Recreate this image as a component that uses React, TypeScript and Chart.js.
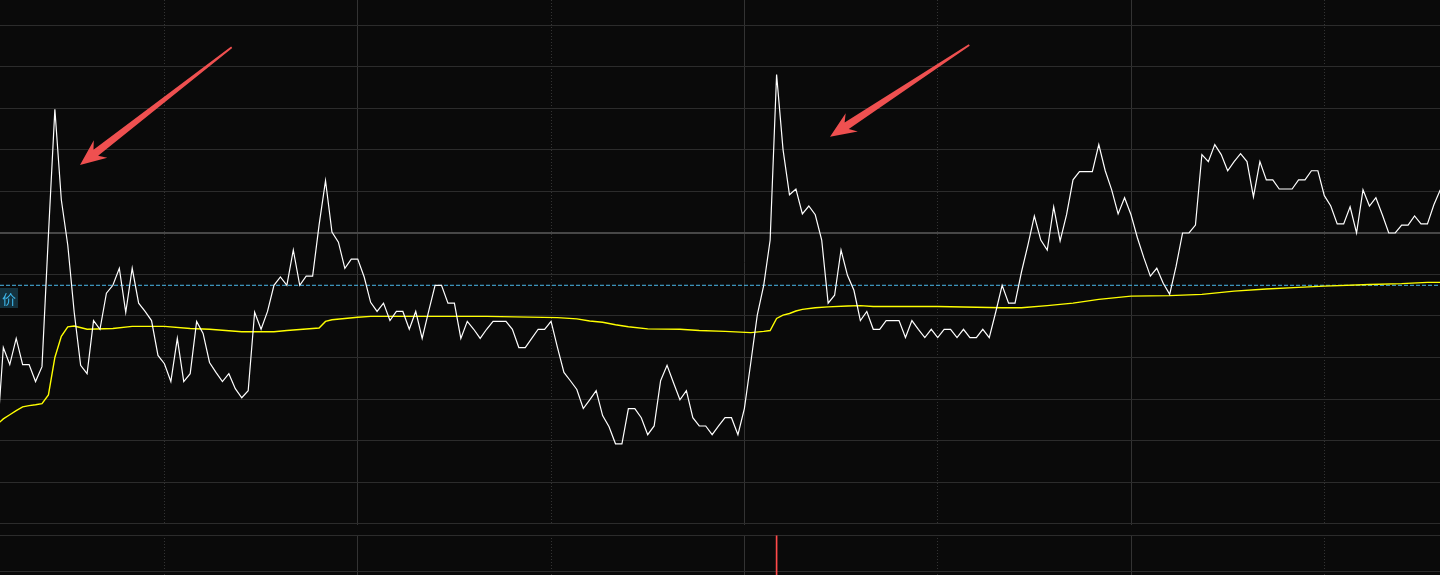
import React, { useEffect, useRef } from "react";
import { Chart, registerables } from "chart.js";

Chart.register(...registerables);

// ---------------- DATA ----------------
// minute index of the trading session (0 = 09:30), first visible minute
const FIRST_MINUTE = 4;
// price line, one value per minute starting at FIRST_MINUTE
const PRICES = [
  9.499, 9.724, 9.683, 9.746, 9.683, 9.683, 9.642, 9.678, 9.995, 10.298,
  10.080, 9.971, 9.809, 9.681, 9.661, 9.789, 9.768, 9.855, 9.874, 9.915,
  9.809, 9.915, 9.831, 9.811, 9.789, 9.705, 9.685, 9.642, 9.746, 9.642,
  9.661, 9.787, 9.758, 9.688, 9.664, 9.642, 9.661, 9.625, 9.603, 9.620,
  9.809, 9.768, 9.811, 9.874, 9.894, 9.874, 9.959, 9.874, 9.896, 9.896,
  10.019, 10.126, 10.002, 9.978, 9.915, 9.937, 9.937, 9.894, 9.833, 9.811,
  9.831, 9.789, 9.811, 9.811, 9.768, 9.811, 9.746, 9.811, 9.874, 9.874,
  9.831, 9.831, 9.746, 9.787, 9.768, 9.746, 9.768, 9.787, 9.787, 9.787,
  9.768, 9.724, 9.724, 9.746, 9.768, 9.768, 9.787, 9.724, 9.664, 9.644,
  9.623, 9.577, 9.598, 9.620, 9.560, 9.533, 9.492, 9.492, 9.577, 9.577,
  9.555, 9.514, 9.535, 9.644, 9.681, 9.639, 9.598, 9.620, 9.555, 9.535,
  9.535, 9.514, 9.535, 9.555, 9.555, 9.514, 9.577, 9.688, 9.802, 9.874,
  9.983, 10.382, 10.201, 10.092, 10.106, 10.046, 10.065, 10.044, 9.983, 9.831,
  9.850, 9.959, 9.898, 9.862, 9.789, 9.811, 9.768, 9.768, 9.789, 9.789,
  9.789, 9.748, 9.789, 9.768, 9.748, 9.768, 9.748, 9.768, 9.768, 9.748,
  9.768, 9.748, 9.748, 9.768, 9.748, 9.809, 9.874, 9.831, 9.831, 9.906,
  9.971, 10.041, 9.983, 9.959, 10.063, 9.981, 10.044, 10.128, 10.148, 10.148,
  10.148, 10.213, 10.150, 10.104, 10.046, 10.085, 10.044, 9.988, 9.940, 9.896,
  9.915, 9.879, 9.852, 9.920, 10.000, 10.000, 10.019, 10.189, 10.172, 10.213,
  10.189, 10.150, 10.172, 10.191, 10.172, 10.087, 10.172, 10.128, 10.128, 10.106,
  10.106, 10.106, 10.128, 10.128, 10.150, 10.150, 10.090, 10.065, 10.022, 10.022,
  10.063, 10.000, 10.104, 10.065, 10.085, 10.044, 10.000, 10.000, 10.019, 10.019,
  10.041, 10.022, 10.022, 10.068, 10.104,
];

// average price line (read at selected minutes)
const AVG_MINUTES = [
  4, 5, 6, 7, 8, 9, 10, 11, 12, 13,
  14, 15, 16, 18, 22, 25, 30, 34, 37, 42,
  47, 49, 54, 55, 56, 58, 60, 62, 80, 91,
  94, 96, 98, 100, 102, 105, 110, 113, 117, 121,
  123, 124, 125, 126, 127, 128, 129, 131, 133, 136,
  138, 140, 150, 160, 163, 167, 171, 175, 180, 186,
  191, 196, 201, 206, 210, 217, 222, 226, 228,
];
const AVG_VALUES = [
  9.538, 9.552, 9.562, 9.572, 9.581, 9.584, 9.586, 9.589, 9.610, 9.700,
  9.751, 9.774, 9.776, 9.768, 9.770, 9.775, 9.775, 9.770, 9.768, 9.762,
  9.762, 9.765, 9.771, 9.787, 9.791, 9.794, 9.797, 9.799, 9.799, 9.796,
  9.793, 9.788, 9.785, 9.779, 9.774, 9.769, 9.768, 9.765, 9.763, 9.760,
  9.763, 9.765, 9.794, 9.802, 9.806, 9.812, 9.816, 9.820, 9.822, 9.824,
  9.825, 9.823, 9.823, 9.820, 9.820, 9.825, 9.831, 9.840, 9.848, 9.849,
  9.852, 9.860, 9.865, 9.869, 9.872, 9.876, 9.878, 9.881, 9.881,
];

const PREV_CLOSE = 10.0;
const REF_PRICE = 9.874; // dashed "价" line
const REF_LABEL = "价";

// horizontal grid values (price)
const PRICE_GRID = [10.5, 10.4, 10.3, 10.2, 10.1, 10.0, 9.9, 9.8, 9.7, 9.6, 9.5, 9.4, 9.3];
// vertical grid minutes: solid (10:30, 11:30/13:00, 14:00) and dotted (half hours)
const SOLID_MINUTES = [60, 120, 180];
const DOTTED_MINUTES = [30, 90, 150, 210];

// volume panel (only the top of the panel is visible)
const VOLUME_MINUTES = [125];
const VOLUME_VALUES = [49000];
const VOLUME_GRID = [50000, 5000];

// annotation arrows, in (minute, price) space: from tail to tip
const ARROW_FROM_MINUTES = [40.44, 154.9];
const ARROW_FROM_PRICES = [10.4475, 10.453];
const ARROW_TO_MINUTES = [16.9, 133.29];
const ARROW_TO_PRICES = [10.1639, 10.232];

// visible axis ranges
const X_MIN = 4.485;
const X_MAX = 227.95;
const Y_MIN = 9.2964;
const Y_MAX = 10.5614;
const VOL_MIN = 0;
const VOL_MAX = 50000;

// ---------------- STYLE ----------------
const BG = "#0a0a0a";
const GRID = "#2c2c2c";
const GRID_MID = "#474747";
const VGRID = "#333333";

const W = 1440;
const MAIN_H = 525;
const VOL_TOP = 535;
const VOL_H = 40;

function xAxes(): any {
  const base = (ticks: number[], dash: number[] | undefined) => ({
    type: "linear",
    position: "bottom",
    min: X_MIN,
    max: X_MAX,
    offset: false,
    ticks: { display: false },
    grid: { drawTicks: false, color: VGRID, lineWidth: 1, offset: false },
    border: { display: false, dash },
    afterBuildTicks: (s: any) => {
      s.ticks = ticks.map((v) => ({ value: v }));
    },
  });
  return { x: base(SOLID_MINUTES, undefined), x2: base(DOTTED_MINUTES, [1, 2]) };
}

const annotationPlugin = {
  id: "annotations",
  afterDatasetsDraw(chart: any) {
    const { ctx } = chart;
    const x = chart.scales.x;
    const y = chart.scales.y;
    ctx.save();
    // label box of reference line
    const ly = y.getPixelForValue(REF_PRICE);
    ctx.fillStyle = "#14323e";
    ctx.fillRect(0, Math.round(ly) + 3, 18, 20);
    ctx.fillStyle = "#3db6ea";
    ctx.font = '14px "Noto Sans CJK SC", sans-serif';
    ctx.textAlign = "center";
    ctx.textBaseline = "middle";
    ctx.fillText(REF_LABEL, 9, Math.round(ly) + 13.5);

    // arrows
    ctx.fillStyle = "#ef5050";
    for (let i = 0; i < ARROW_FROM_MINUTES.length; i++) {
      const tx = x.getPixelForValue(ARROW_FROM_MINUTES[i]);
      const ty = y.getPixelForValue(ARROW_FROM_PRICES[i]);
      const hx = x.getPixelForValue(ARROW_TO_MINUTES[i]);
      const hy = y.getPixelForValue(ARROW_TO_PRICES[i]);
      const dx = hx - tx;
      const dy = hy - ty;
      const L = Math.hypot(dx, dy);
      const ux = dx / L;
      const uy = dy / L;
      const nx = -uy;
      const ny = ux;
      const pt = (back: number, side: number) => [hx - ux * back + nx * side, hy - uy * back + ny * side];
      const pts = [
        pt(0, 0),
        pt(26, 11),
        pt(20, 3.8),
        pt(L, 0.9),
        pt(L, -0.9),
        pt(20, -3.8),
        pt(26, -11),
      ];
      ctx.beginPath();
      ctx.moveTo(pts[0][0], pts[0][1]);
      for (let k = 1; k < pts.length; k++) ctx.lineTo(pts[k][0], pts[k][1]);
      ctx.closePath();
      ctx.fill();
    }
    ctx.restore();
  },
};

export default function App() {
  const mainRef = useRef<HTMLCanvasElement>(null);
  const volRef = useRef<HTMLCanvasElement>(null);

  useEffect(() => {
    document.body.style.margin = "0";
    document.body.style.background = BG;

    const priceData = PRICES.map((p, i) => ({ x: FIRST_MINUTE + i, y: p }));
    const avgData = AVG_MINUTES.map((m, i) => ({ x: m, y: AVG_VALUES[i] }));

    const main = new Chart(mainRef.current as HTMLCanvasElement, {
      type: "line",
      data: {
        datasets: [
          {
            label: "价格",
            data: priceData,
            borderColor: "#ffffff",
            borderWidth: 1.2,
            pointRadius: 0,
            tension: 0,
            xAxisID: "x",
          },
          {
            label: "均价",
            data: avgData,
            borderColor: "#ffff00",
            borderWidth: 1.4,
            pointRadius: 0,
            tension: 0,
            xAxisID: "x",
          },
          {
            label: "价",
            data: [
              { x: X_MIN, y: REF_PRICE },
              { x: X_MAX, y: REF_PRICE },
            ],
            borderColor: "#4bb8ea",
            borderWidth: 1,
            borderDash: [4, 2],
            pointRadius: 0,
            xAxisID: "x",
          },
        ],
      } as any,
      options: {
        animation: false,
        responsive: false,
        maintainAspectRatio: false,
        layout: { padding: 0 },
        plugins: { legend: { display: false }, tooltip: { enabled: false } },
        scales: {
          ...xAxes(),
          y: {
            type: "linear",
            min: Y_MIN,
            max: Y_MAX,
            ticks: { display: false },
            grid: {
              drawTicks: false,
              color: (c: any) => (Math.abs(c.tick.value - PREV_CLOSE) < 1e-6 ? GRID_MID : GRID),
              lineWidth: (c: any) => (Math.abs(c.tick.value - PREV_CLOSE) < 1e-6 ? 2 : 1),
            },
            border: { display: false },
            afterBuildTicks: (s: any) => {
              s.ticks = PRICE_GRID.map((v) => ({ value: v }));
            },
          },
        },
      } as any,
      plugins: [annotationPlugin],
    });

    const vol = new Chart(volRef.current as HTMLCanvasElement, {
      type: "bar",
      data: {
        datasets: [
          {
            label: "成交量",
            data: VOLUME_MINUTES.map((m, i) => ({ x: m, y: VOLUME_VALUES[i] })),
            backgroundColor: "#ff4a4a",
            barThickness: 1,
            xAxisID: "x",
          },
        ],
      } as any,
      options: {
        animation: false,
        responsive: false,
        maintainAspectRatio: false,
        layout: { padding: 0 },
        plugins: { legend: { display: false }, tooltip: { enabled: false } },
        scales: {
          ...xAxes(),
          y: {
            type: "linear",
            min: VOL_MIN,
            max: VOL_MAX,
            ticks: { display: false },
            grid: { drawTicks: false, color: GRID, lineWidth: 1 },
            border: { display: false },
            afterBuildTicks: (s: any) => {
              s.ticks = VOLUME_GRID.map((v) => ({ value: v }));
            },
          },
        },
      } as any,
    });

    return () => {
      main.destroy();
      vol.destroy();
    };
  }, []);

  return (
    <div style={{ position: "relative", width: W, height: 575, background: BG, overflow: "hidden" }}>
      <div style={{ position: "absolute", left: 0, top: 0, width: W, height: MAIN_H }}>
        <canvas ref={mainRef} width={W} height={MAIN_H} style={{ display: "block" }} />
      </div>
      <div style={{ position: "absolute", left: 0, top: VOL_TOP, width: W, height: VOL_H }}>
        <canvas ref={volRef} width={W} height={VOL_H} style={{ display: "block" }} />
      </div>
    </div>
  );
}
